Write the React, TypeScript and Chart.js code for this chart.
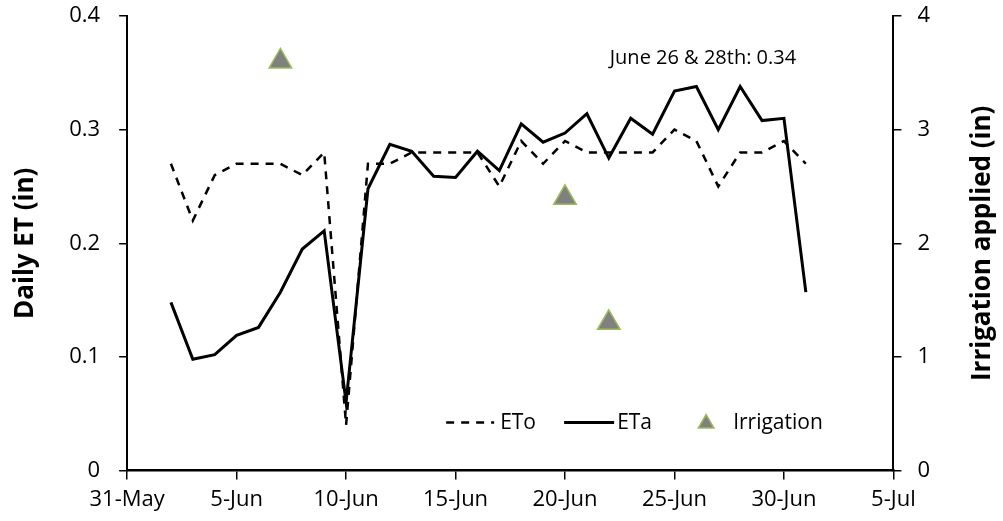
import { useEffect, useRef } from "react";
import { Chart, registerables } from "chart.js";

Chart.register(...registerables);

const FONT = "'Open Sans', sans-serif";

// Day offsets counted from 31-May (2 = 2-Jun ... 31 = 1-Jul)
const dayOffsets = [2, 3, 4, 5, 6, 7, 8, 9, 10, 11, 12, 13, 14, 15, 16, 17, 18, 19, 20, 21, 22, 23, 24, 25, 26, 27, 28, 29, 30, 31];
const etoValues = [0.27, 0.22, 0.26, 0.27, 0.27, 0.27, 0.26, 0.28, 0.04, 0.27, 0.27, 0.28, 0.28, 0.28, 0.28, 0.25, 0.29, 0.27, 0.29, 0.28, 0.28, 0.28, 0.28, 0.30, 0.29, 0.25, 0.28, 0.28, 0.29, 0.27];
const etaValues = [0.148, 0.098, 0.102, 0.119, 0.126, 0.157, 0.195, 0.211, 0.06, 0.248, 0.287, 0.281, 0.259, 0.258, 0.281, 0.264, 0.305, 0.289, 0.297, 0.314, 0.275, 0.31, 0.296, 0.334, 0.338, 0.30, 0.338, 0.308, 0.31, 0.157];
const irrigationDays = [7, 20, 22];
const irrigationValues = [3.6, 2.4, 1.3];
const xTickLabels = ["31-May", "5-Jun", "10-Jun", "15-Jun", "20-Jun", "25-Jun", "30-Jun", "5-Jul"];
const seriesNames = ["ETo", "ETa", "Irrigation"];
const leftTitle = "Daily ET (in)";
const rightTitle = "Irrigation applied (in)";
const annotationText = "June 26 & 28th: 0.34";
const annotationAt = { x: 26.3, y: 0.363 };

const TRI_FILL = "#808080";
const TRI_BORDER = "#9BBB59";

function drawTriangle(ctx: CanvasRenderingContext2D, cx: number, cy: number, r: number) {
  ctx.beginPath();
  for (let i = 0; i < 3; i++) {
    const a = (i * 2 * Math.PI) / 3;
    const x = cx + Math.sin(a) * r;
    const y = cy - Math.cos(a) * r;
    if (i === 0) ctx.moveTo(x, y);
    else ctx.lineTo(x, y);
  }
  ctx.closePath();
  ctx.fillStyle = TRI_FILL;
  ctx.fill();
  ctx.strokeStyle = TRI_BORDER;
  ctx.lineWidth = 1.5;
  ctx.stroke();
}

const overlayPlugin = {
  id: "overlay",
  afterDraw(chart: any) {
    const { ctx, chartArea, scales } = chart;
    ctx.save();
    // annotation
    ctx.font = `20px ${FONT}`;
    ctx.fillStyle = "#000";
    ctx.textAlign = "center";
    ctx.textBaseline = "middle";
    ctx.fillText(annotationText, scales.x.getPixelForValue(annotationAt.x), scales.y.getPixelForValue(annotationAt.y));

    // right axis title (reads bottom-to-top)
    ctx.save();
    ctx.translate(chartArea.right + 89, (chartArea.top + chartArea.bottom) / 2);
    ctx.rotate(-Math.PI / 2);
    ctx.font = `bold 26px ${FONT}`;
    ctx.textAlign = "center";
    ctx.textBaseline = "middle";
    ctx.fillText(rightTitle, 0, 0);
    ctx.restore();

    // legend
    const ly = chartArea.bottom - 48;
    const L = chartArea.left;
    ctx.font = `21px ${FONT}`;
    ctx.textAlign = "left";
    ctx.textBaseline = "middle";
    ctx.strokeStyle = "#000";
    ctx.lineWidth = 2.5;
    ctx.setLineDash([8, 7]);
    ctx.beginPath();
    ctx.moveTo(L + 319, ly);
    ctx.lineTo(L + 367, ly);
    ctx.stroke();
    ctx.setLineDash([]);
    ctx.fillText(seriesNames[0], L + 373, ly);
    ctx.lineWidth = 3;
    ctx.beginPath();
    ctx.moveTo(L + 437, ly);
    ctx.lineTo(L + 487, ly);
    ctx.stroke();
    ctx.fillText(seriesNames[1], L + 490, ly);
    drawTriangle(ctx, L + 579, ly + 1, 9);
    ctx.fillStyle = "#000";
    ctx.fillText(seriesNames[2], L + 606, ly);
    ctx.restore();
  },
};

const zeroVerticalPadding = (s: any) => {
  s.paddingTop = 0;
  s.paddingBottom = 0;
};
const zeroHorizontalPadding = (s: any) => {
  s.paddingLeft = 0;
  s.paddingRight = 0;
};

export default function App() {
  const ref = useRef<HTMLCanvasElement | null>(null);
  useEffect(() => {
    if (!ref.current) return;
    const chart = new Chart(ref.current, {
      type: "line",
      data: {
        datasets: [
          {
            label: seriesNames[0],
            data: dayOffsets.map((d, i) => ({ x: d, y: etoValues[i] })),
            borderColor: "#000",
            borderWidth: 2.5,
            borderDash: [8, 7],
            pointRadius: 0,
            tension: 0,
            yAxisID: "y",
          },
          {
            label: seriesNames[1],
            data: dayOffsets.map((d, i) => ({ x: d, y: etaValues[i] })),
            borderColor: "#000",
            borderWidth: 3,
            pointRadius: 0,
            tension: 0,
            yAxisID: "y",
          },
          {
            label: seriesNames[2],
            data: irrigationDays.map((d, i) => ({ x: d, y: irrigationValues[i] })),
            showLine: false,
            pointStyle: "triangle",
            pointRadius: 13,
            pointBackgroundColor: TRI_FILL,
            pointBorderColor: TRI_BORDER,
            pointBorderWidth: 1.5,
            yAxisID: "y1",
          },
        ],
      },
      options: {
        animation: false,
        responsive: false,
        maintainAspectRatio: false,
        layout: { autoPadding: false, padding: { top: 16, bottom: 1, left: 10, right: 57 } },
        plugins: { legend: { display: false }, tooltip: { enabled: false } },
        scales: {
          x: {
            type: "linear",
            min: 0,
            max: 35,
            afterFit: zeroHorizontalPadding,
            ticks: {
              stepSize: 5,
              color: "#000",
              font: { family: FONT, size: 22 },
              padding: 7,
              maxRotation: 0,
              callback: (v: any) => xTickLabels[Math.round(Number(v) / 5)] ?? "",
            },
            grid: { display: true, drawOnChartArea: false, drawTicks: true, tickLength: 9, color: "#000", lineWidth: 1.5 },
            border: { display: true, color: "#000", width: 2.5 },
          },
          y: {
            position: "left",
            min: 0,
            max: 0.4,
            afterFit: zeroVerticalPadding,
            ticks: { stepSize: 0.1, color: "#000", font: { family: FONT, size: 22 }, padding: 19 },
            grid: { display: true, drawOnChartArea: false, drawTicks: true, tickLength: 8, color: "#000", lineWidth: 1.5 },
            border: { display: true, color: "#000", width: 2 },
            title: { display: true, text: leftTitle, color: "#000", font: { family: FONT, size: 26, weight: "bold" }, padding: { top: 0, bottom: 9 } },
          },
          y1: {
            position: "right",
            min: 0,
            max: 4,
            afterFit: zeroVerticalPadding,
            ticks: { stepSize: 1, color: "#000", font: { family: FONT, size: 22 }, padding: 16 },
            grid: { display: true, drawOnChartArea: false, drawTicks: true, tickLength: 8, color: "#000", lineWidth: 1.5 },
            border: { display: true, color: "#000", width: 2 },
          },
        },
      },
      plugins: [overlayPlugin],
    });
    return () => chart.destroy();
  }, []);
  return (
    <div style={{ position: "fixed", left: 0, top: 0, width: 1003, height: 521, background: "#fff" }}>
      <canvas ref={ref} width={1003} height={521} style={{ width: 1003, height: 521, display: "block" }} />
    </div>
  );
}
